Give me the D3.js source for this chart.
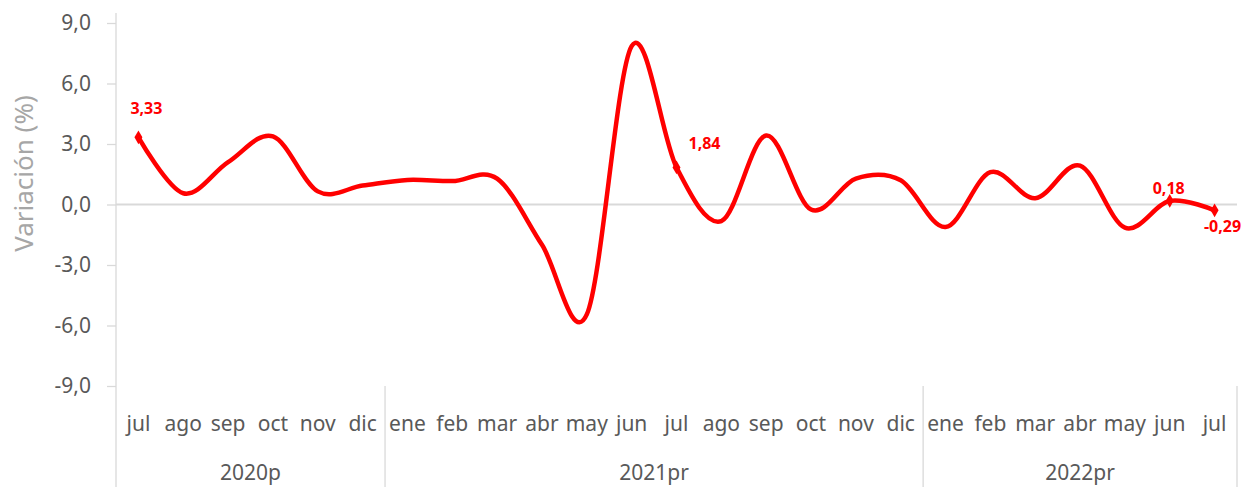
<!DOCTYPE html>
<html>
<head>
<meta charset="utf-8">
<script src="https://cdn.jsdelivr.net/npm/d3@7"></script>
<style>
  body { margin: 0; background: #fff; }
  text { font-family: "Segoe UI", "Noto Sans", "Open Sans", sans-serif; }
</style>
</head>
<body>
<div id="chart"></div>
<script>
// Set size constants
var totWidth = 1244,
    totHeight = 487;
var margins = {top: 23, right: 7, bottom: 101, left: 116};
var width = totWidth - margins.left - margins.right,
    height = totHeight - margins.top - margins.bottom;

// Data
var months = ["jul","ago","sep","oct","nov","dic",
              "ene","feb","mar","abr","may","jun","jul","ago","sep","oct","nov","dic",
              "ene","feb","mar","abr","may","jun","jul"];
var years = ["2020p", "2021pr", "2022pr"];
var yearCounts = [6, 12, 7];
var variacion = [3.33, 0.56, 2.1, 3.38, 0.65, 0.94,
                 1.22, 1.16, 1.28, -2.0, -5.45, 7.85, 1.84, -0.82, 3.42, -0.25, 1.28, 1.2,
                 -1.12, 1.6, 0.31, 1.93, -1.15, 0.18, -0.29];
var labelled = [0, 12, 23, 24];
var yTicks = [9, 6, 3, 0, -3, -6, -9];

// comma decimals, plain hyphen for negatives
var fmt = function(v, d) { return d3.format("." + d + "f")(v).replace(".", ",").replace("\u2212", "-"); };

var svg = d3.select("#chart")
  .append("svg")
    .attr("width", totWidth)
    .attr("height", totHeight)
  .append("g")
    .attr("transform", "translate(" + margins.left + "," + margins.top + ")");

var x = d3.scaleBand()
  .domain(d3.range(months.length))
  .range([0, width])
  .padding(0);

var y = d3.scaleLinear()
  .domain([-9, 9])
  .range([height, 0]);

// Y axis
var yAxis = svg.append("g")
  .call(d3.axisLeft(y)
    .tickValues(yTicks)
    .tickSize(9)
    .tickPadding(16)
    .tickFormat(function(d) { return fmt(d, 1); }));
yAxis.select(".domain").remove();
yAxis.selectAll(".tick line").attr("stroke", "#d9d9d9").attr("stroke-width", 1.3);
yAxis.selectAll(".tick text")
  .attr("fill", "#595959")
  .style("font-size", "21px");

// axis line (full height, down through category labels)
svg.append("line")
  .attr("x1", 0).attr("x2", 0)
  .attr("y1", -10).attr("y2", totHeight - margins.top)
  .attr("stroke", "#d9d9d9").attr("stroke-width", 1.3);

// zero line
svg.append("line")
  .attr("x1", 0).attr("x2", width)
  .attr("y1", y(0)).attr("y2", y(0))
  .attr("stroke", "#d9d9d9").attr("stroke-width", 2);

// Y axis label
svg.append("text")
  .attr("transform", "rotate(-90)")
  .attr("x", -(y(0) - 31))
  .attr("y", -margins.left + 33)
  .attr("text-anchor", "middle")
  .attr("fill", "#a6a6a6")
  .style("font-size", "26px")
  .text("Variación (%)");

// Month labels
svg.selectAll(".month")
  .data(months)
  .enter()
  .append("text")
    .attr("class", "month")
    .attr("x", function(d, i) { return x(i) + x.bandwidth() / 2; })
    .attr("y", height + 45)
    .attr("text-anchor", "middle")
    .attr("fill", "#595959")
    .style("font-size", "21px")
    .text(function(d) { return d; });

// Year groups and separators
var starts = [0];
yearCounts.forEach(function(c, i) { starts.push(starts[i] + c); });
svg.selectAll(".sep")
  .data(starts.slice(1))
  .enter()
  .append("line")
    .attr("x1", function(d) { return d < months.length ? x(d) : width; })
    .attr("x2", function(d) { return d < months.length ? x(d) : width; })
    .attr("y1", height)
    .attr("y2", totHeight - margins.top)
    .attr("stroke", "#d9d9d9").attr("stroke-width", 1.3);

svg.selectAll(".year")
  .data(years)
  .enter()
  .append("text")
    .attr("class", "year")
    .attr("x", function(d, i) {
      var a = x(starts[i]);
      var b = starts[i + 1] < months.length ? x(starts[i + 1]) : width;
      return (a + b) / 2;
    })
    .attr("y", height + 94)
    .attr("text-anchor", "middle")
    .attr("fill", "#595959")
    .style("font-size", "21px")
    .text(function(d) { return d; });

// Line
var line = d3.line()
  .x(function(d, i) { return x(i) + x.bandwidth() / 2; })
  .y(function(d) { return y(d); })
  .curve(d3.curveCardinal.tension(0));

svg.append("path")
  .datum(variacion)
  .attr("fill", "none")
  .attr("stroke", "#ff0000")
  .attr("stroke-width", 4.5)
  .attr("stroke-linejoin", "round")
  .attr("d", line);

// Markers on labelled points
svg.selectAll(".mark")
  .data(labelled)
  .enter()
  .append("path")
    .attr("class", "mark")
    .attr("d", d3.symbol().type(d3.symbolDiamond).size(55))
    .attr("transform", function(i) {
      return "translate(" + (x(i) + x.bandwidth() / 2) + "," + y(variacion[i]) + ")";
    })
    .attr("fill", "#ff0000");

// Data labels
var labelOffsets = {0: [8, -23], 12: [28, -18], 23: [-1, -7], 24: [8, 22]};
svg.selectAll(".dlabel")
  .data(labelled)
  .enter()
  .append("text")
    .attr("class", "dlabel")
    .attr("x", function(i) { return x(i) + x.bandwidth() / 2 + labelOffsets[i][0]; })
    .attr("y", function(i) { return y(variacion[i]) + labelOffsets[i][1]; })
    .attr("text-anchor", "middle")
    .attr("fill", "#ff0000")
    .style("font-size", "16px")
    .style("font-weight", "bold")
    .text(function(i) { return fmt(variacion[i], 2); });
</script>
</body>
</html>
